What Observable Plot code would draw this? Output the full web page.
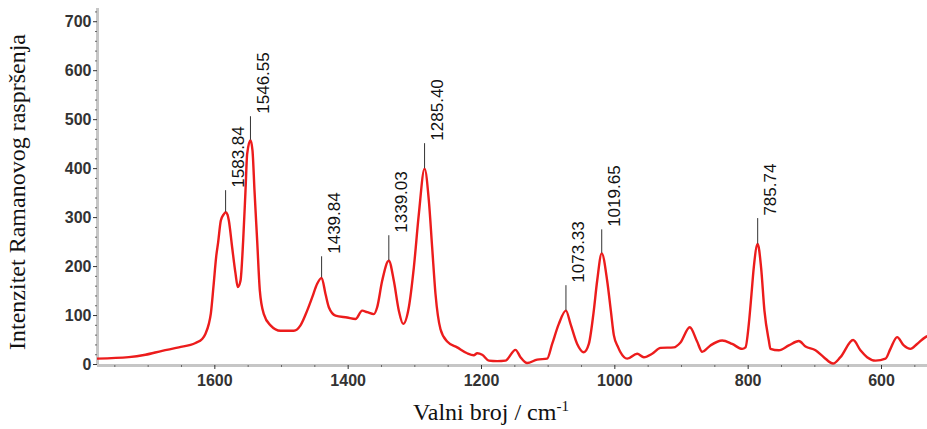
<!DOCTYPE html>
<html>
<head>
<meta charset="utf-8">
<script src="https://cdn.jsdelivr.net/npm/d3@7"></script>
<script src="https://cdn.jsdelivr.net/npm/@observablehq/plot@0.6"></script>
<style>
  html, body { margin: 0; padding: 0; background: #fff; }
  #chart { width: 927px; height: 429px; }
</style>
</head>
<body>
<div id="chart"></div>
<script>
// Spectrum (wavenumber in cm-1, Raman intensity)
const wavenumbers = [1776,1729,1704,1679,1654,1629,1619,1614,1609,1606,1602,1598,1595,1591,1587,1583.84,1581,1579,1574,1569,1565.5,1561.5,1557.5,1554,1551.5,1546.55,1543.5,1540.5,1536.5,1532.5,1526.5,1516.5,1501.5,1481.5,1471.5,1461.5,1454,1446.5,1439.84,1434,1429,1419,1401.5,1389,1379,1371.5,1361.5,1356.5,1349,1339.03,1331.5,1324,1317.5,1309,1301.5,1294,1285.4,1279,1274,1269,1261.5,1251.5,1236.5,1221.5,1211.5,1206.5,1199,1189,1176.5,1164,1149,1141.5,1131.5,1116.5,1101.5,1094,1084,1073.33,1066.5,1056.5,1046.5,1039,1032,1026.5,1019.65,1011.5,1006,1001.5,995,991.5,981.5,966.5,956.5,944,931.5,911.5,901.5,887.6,876.6,869,856.6,839,824,809,804,799,795,791.6,785.74,780.6,775.6,769,766.6,754,739,724,714,699,686.6,672.6,661.6,642.6,631.6,621.6,609,594,586.6,576.6,566.6,556.6,546.6,534,531];
const intensities = [12,15,20,28,35,44,52,63,83,104,160,220,250,294,306,311,306,294,239,186,158,171,253,355,430,458,437,355,253,151,103,80,69,69,80,110,137,165,177,144,117,100,96,93,110,107,103,117,171,212,171,110,83,117,198,307,400,335,239,144,72,47,35,23,19,23,20,8,7,8,30,15,3,10,12,42,83,110,83,42,25,42,105,171,227,171,110,60,35,25,12,22,15,22,34,35,45,76,47,26,39,49,42,32,35,83,144,198,246,198,110,49,32,29,39,48,37,29,15,2,15,50,29,15,8,12,32,56,39,32,42,56,58];

// Labelled peaks
const peakLabels = ["1583.84","1546.55","1439.84","1339.03","1285.40","1073.33","1019.65","785.74"];
const peakPositions = [1583.84,1546.55,1439.84,1339.03,1285.40,1073.33,1019.65,785.74];
const peakHeights = [311,458,177,212,400,110,227,246];
const peakMarkerTops = [355,506,220,263,451,161,275,298];

// Axis ticks
const xTicks = [1600,1400,1200,1000,800,600];
const xMinorTicks = d3.range(550, 1776, 50).filter(v => !xTicks.includes(v));
const yTicks = [0,100,200,300,400,500,600,700];
const yMinorTicks = d3.range(0, 721, 20).filter(v => v % 100 !== 0);

const yTitle = "Intenzitet Ramanovog raspršenja";
const xTitle = "Valni broj / cm";
const xTitleSup = "-1";

const spectrum = wavenumbers.map((w, i) => ({w, v: intensities[i]}));
const peaks = peakLabels.map((label, i) => ({label, w: peakPositions[i], h: peakHeights[i], top: peakMarkerTops[i]}));

const plot = Plot.plot({
  width: 927,
  height: 429,
  marginLeft: 97,
  marginRight: 0,
  marginTop: 8,
  marginBottom: 64,
  style: {fontFamily: "'Liberation Sans', Arial, sans-serif", background: "#fff", overflow: "visible"},
  x: {domain: [1776, 531]},
  y: {domain: [-2, 727]},
  marks: [
    Plot.ruleY([-2], {stroke: "#c6c6c6", strokeWidth: 3}),
    Plot.ruleX([1776], {stroke: "#c6c6c6", strokeWidth: 3}),
    Plot.axisX({ticks: xMinorTicks, tickSize: 2, tickFormat: () => "", label: null, stroke: "#666"}),
    Plot.axisX({ticks: xTicks, tickSize: 4, tickPadding: 5, label: null, fontSize: 16, fontWeight: "bold", color: "#333", tickFormat: d => String(d)}),
    Plot.axisY({ticks: yMinorTicks, tickSize: 2, tickFormat: () => "", label: null, stroke: "#666"}),
    Plot.axisY({ticks: yTicks, tickSize: 4, tickPadding: 2, label: null, fontSize: 16, fontWeight: "bold", color: "#333", tickFormat: d => String(d)}),
    Plot.line(spectrum, {x: "w", y: "v", stroke: "#ec1c1c", strokeWidth: 2.4, curve: "monotone-x", clip: true}),
    Plot.ruleX(peaks, {x: "w", y1: "h", y2: "top", stroke: "#333", strokeWidth: 1}),
    Plot.text(peaks, {x: "w", y: "top", text: "label", rotate: -90, textAnchor: "start", dx: 13, dy: -3, fontSize: 17, fill: "#111"})
  ]
});

const svg = d3.select(plot);
svg.append("text")
  .attr("transform", "translate(25,192) rotate(-90)")
  .attr("text-anchor", "middle")
  .attr("font-family", "'Liberation Serif', 'Times New Roman', serif")
  .attr("font-size", 24)
  .attr("fill", "#111")
  .text(yTitle);
const xt = svg.append("text")
  .attr("x", 491)
  .attr("y", 420)
  .attr("text-anchor", "middle")
  .attr("font-family", "'Liberation Serif', 'Times New Roman', serif")
  .attr("font-size", 24)
  .attr("fill", "#111");
xt.append("tspan").text(xTitle);
xt.append("tspan").attr("dy", -9).attr("font-size", 15).text(xTitleSup);

document.getElementById("chart").appendChild(plot);
</script>
</body>
</html>
